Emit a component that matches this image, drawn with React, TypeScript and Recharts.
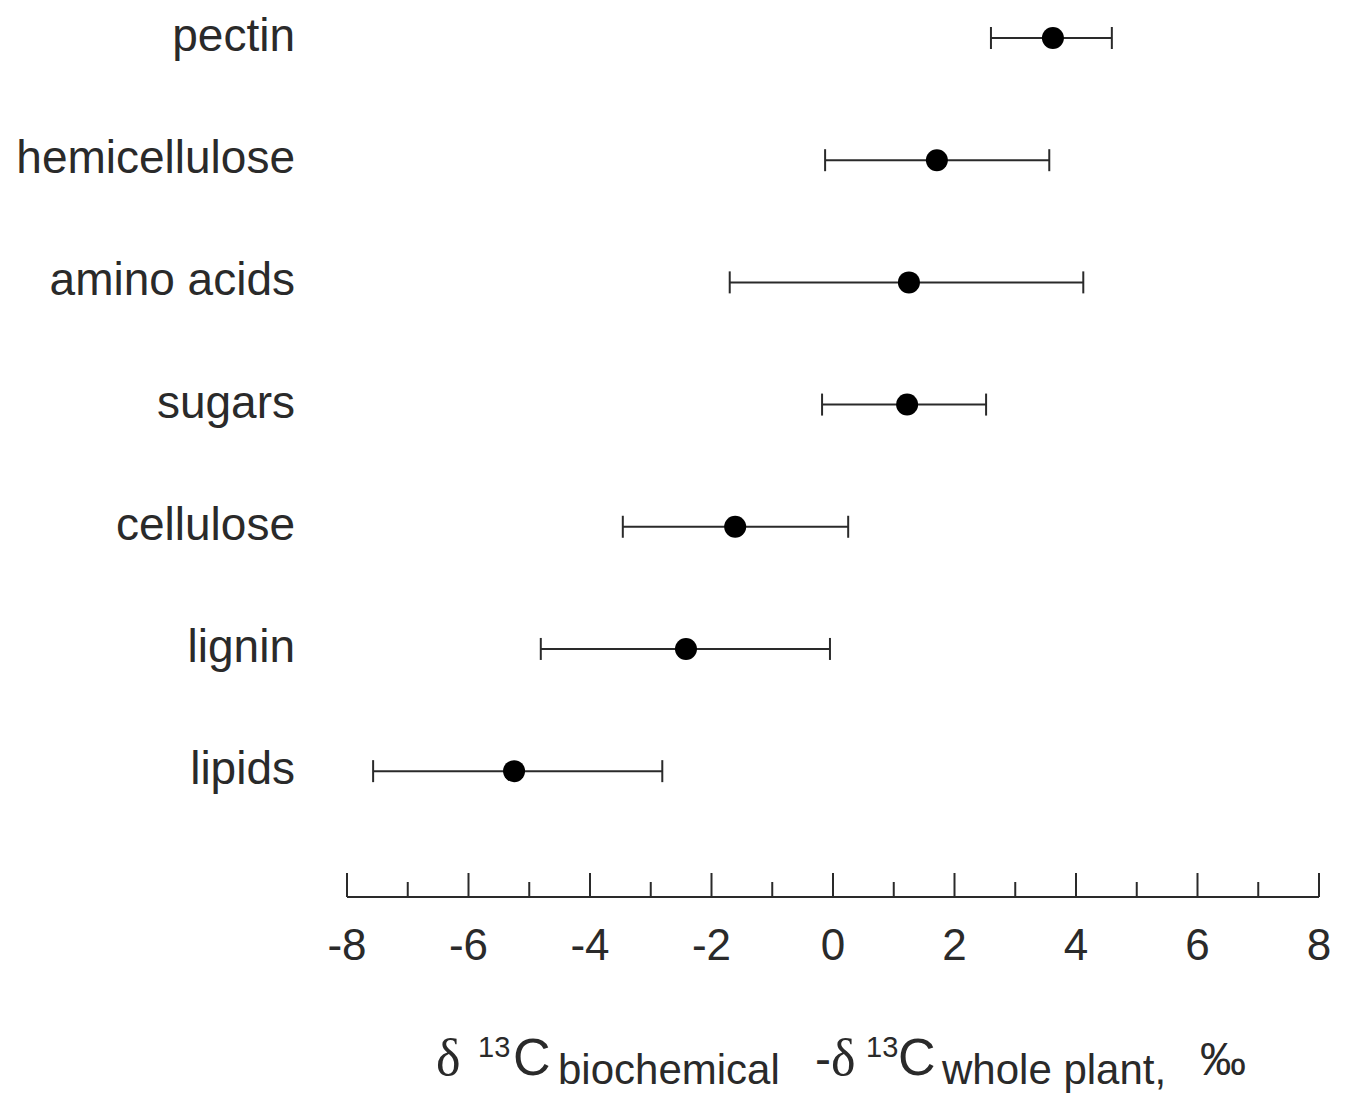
import { ScatterChart, Scatter, XAxis, YAxis, ErrorBar, Label } from "recharts";

// δ13C offsets of each compound class from the whole plant (‰): mean and range
const compounds = ["pectin", "hemicellulose", "amino acids", "sugars", "cellulose", "lignin", "lipids"];
const meanOffset = [3.62, 1.71, 1.25, 1.22, -1.61, -2.42, -5.25];
const lowerBound = [2.6, -0.13, -1.7, -0.18, -3.46, -4.81, -7.57];
const upperBound = [4.59, 3.56, 4.12, 2.52, 0.25, -0.05, -2.81];
const xTicks = [-8, -7, -6, -5, -4, -3, -2, -1, 0, 1, 2, 3, 4, 5, 6, 7, 8];

const INK = "#2a2a2a";
const SANS = "'Liberation Sans', Arial, Helvetica, sans-serif";
const SERIF = "'Liberation Serif', 'Times New Roman', serif";

// rows counted from the bottom so pectin sits on top
const rows = compounds.map((name, i) => ({
  name,
  row: compounds.length - 1 - i,
  mean: meanOffset[i],
  err: [meanOffset[i] - lowerBound[i], upperBound[i] - meanOffset[i]],
}));
const rowTicks = rows.map((r) => r.row);

const CompoundTick = (props: any) => {
  const { x, y, payload } = props;
  return (
    <text x={x} y={y} dy={13} textAnchor="end" fontSize={46} fill={INK} fontFamily={SANS}>
      {compounds[compounds.length - 1 - payload.value]}
    </text>
  );
};

// ticks point up from the axis line, numbers only on the even values
const OffsetTick = (props: any) => {
  const { x, y, payload } = props;
  const major = payload.value % 2 === 0;
  return (
    <g>
      <line x1={x} y1={y} x2={x} y2={y - (major ? 24 : 15)} stroke={INK} strokeWidth={2} />
      {major && (
        <text x={x} y={y + 63} textAnchor="middle" fontSize={44} fill={INK} fontFamily={SANS}>
          {payload.value}
        </text>
      )}
    </g>
  );
};

const AxisTitle = () => (
  <text fill={INK} fontFamily={SANS} fontSize={52}>
    <tspan x={436} y={1075} fontFamily={SERIF} fontSize={52}>δ</tspan>
    <tspan x={478} y={1057} fontSize={29}>13</tspan>
    <tspan x={513} y={1075}>C</tspan>
    <tspan x={558} y={1084} fontSize={42}>biochemical</tspan>
    <tspan x={815} y={1075} fontSize={48}>-</tspan>
    <tspan x={831} y={1075} fontFamily={SERIF}>δ</tspan>
    <tspan x={866} y={1057} fontSize={29}>13</tspan>
    <tspan x={898} y={1075}>C</tspan>
    <tspan x={942} y={1084} fontSize={42}>whole plant,</tspan>
    <tspan x={1200} y={1075} fontSize={46}>‰</tspan>
  </text>
);

export default function App() {
  return (
    <div style={{ position: "absolute", left: 0, top: 0, background: "#fff" }}>
      <ScatterChart width={1354} height={1103} margin={{ top: 38, right: 35, bottom: 0, left: 0 }}>
        <XAxis
          type="number"
          dataKey="mean"
          domain={[-8, 8]}
          ticks={xTicks}
          interval={0}
          height={206}
          tickLine={false}
          tickSize={0}
          tickMargin={0}
          axisLine={{ stroke: INK, strokeWidth: 2 }}
          tick={<OffsetTick />}
        >
          <Label content={<AxisTitle />} />
        </XAxis>
        <YAxis
          type="number"
          dataKey="row"
          domain={[-1.03, 6]}
          ticks={rowTicks}
          interval={0}
          width={347}
          axisLine={false}
          tickLine={false}
          tickSize={0}
          tickMargin={52}
          tick={<CompoundTick />}
        />
        <Scatter
          data={rows}
          isAnimationActive={false}
          shape={(p: any) => <circle cx={p.cx} cy={p.cy} r={11} fill="#000" />}
        >
          <ErrorBar dataKey="err" direction="x" width={11} stroke="#2a2a2a" strokeWidth={2} isAnimationActive={false} />
        </Scatter>
      </ScatterChart>
    </div>
  );
}
